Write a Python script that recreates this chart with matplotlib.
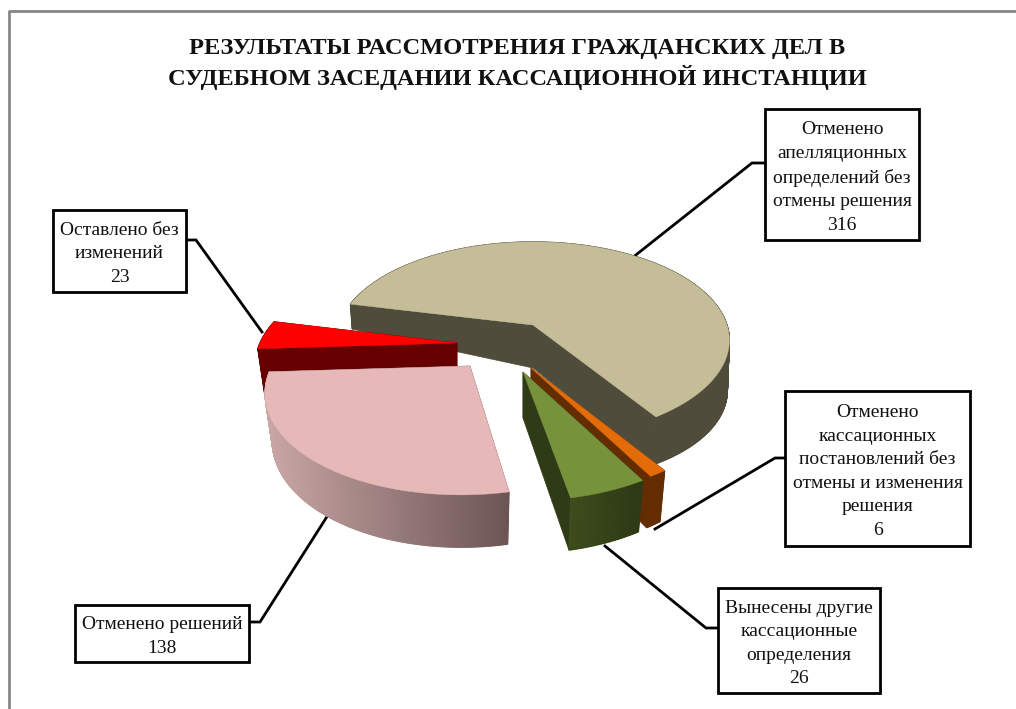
import matplotlib
matplotlib.use("Agg")
import matplotlib.pyplot as plt
from matplotlib.colors import LinearSegmentedColormap
import numpy as np

title = "РЕЗУЛЬТАТЫ РАССМОТРЕНИЯ ГРАЖДАНСКИХ ДЕЛ В\nСУДЕБНОМ ЗАСЕДАНИИ КАССАЦИОННОЙ ИНСТАНЦИИ"

# clockwise from the large slice
names = [
    "Отменено\nапелляционных\nопределений без\nотмены решения",
    "Отменено\nкассационных\nпостановлений без\nотмены и изменения\nрешения",
    "Вынесены другие\nкассационные\nопределения",
    "Отменено решений",
    "Оставлено без\nизменений",
]
values = [316, 6, 26, 138, 23]

top_colors = ["#c4bd97", "#e36c09", "#76933c", "#e6b9b8", "#ff0000"]
side_left = ["#504c3b", "#632d00", "#3d4c1c", "#c9a6a5", "#660000"]
side_right = ["#504c3b", "#632d00", "#2e3915", "#6c5555", "#660000"]
face_colors = ["#504c3b", "#632d00", "#2f3a17", "#7a5c5c", "#660000"]

# exploded slice centres in pixels, perspective settings per slice
cx = [533, 531, 523, 470, 457]
cy = [325, 368, 372, 366, 343]
rx = [194, 197, 197, 198, 197]
ry = [96, 100, 100, 100, 100]
persp = [0.155, 0.224, 0.224, 0.224, 0.224]
skew = [0, 0, 0, -0.07, 0]
shrink = [0.99, 0.965, 0.965, 0.965, 0.965]
y_spread = [0, 0.05, 0.05, 0.05, 0.05]
depth = 46
start_angle = -77.0

# label boxes x0, y0, x1, y1 and leader lines
boxes = [
    (765, 109, 919, 240),
    (785, 391, 970, 546),
    (718, 588, 880, 693),
    (75, 605, 249, 662),
    (53, 210, 186, 292),
]
leaders = [
    ([632, 752, 765], [258, 163, 163]),
    ([655, 775, 785], [529, 458, 458]),
    ([605, 706, 718], [546, 628, 628]),
    ([328, 260, 249], [515, 622, 622]),
    ([262, 196, 186], [332, 240, 240]),
]

fig = plt.figure(figsize=(10.16, 7.09), dpi=100)
ax = fig.add_axes([0, 0, 1, 1])
ax.set_xlim(0, 1016)
ax.set_ylim(709, 0)
ax.axis("off")

ax.plot([9, 9, 1016], [709, 11, 11], color="#868686", lw=2)

ax.text(517, 64, title, ha="center", va="center", fontsize=17.6, fontweight="bold",
        family="Liberation Serif", linespacing=1.33, color="#111111")


def project(i, theta):
    u = np.sin(np.radians(theta))
    v = -np.cos(np.radians(theta))
    s = 1 / (1 - persp[i] * v)
    dy = ry[i] * v * s
    return cx[i] + rx[i] * u * s + skew[i] * dy, cy[i] + dy


def bottom(i, x, y):
    # the big slice gets thinner towards its back left corner
    if i == 0:
        d = np.interp(x, [352, 533, 730], [25, 43, 50])
    else:
        d = np.full_like(x, depth, dtype=float)
    return cx[i] + (x - cx[i]) * shrink[i], y + d + (y - cy[i]) * y_spread[i]


def draw_slice(i, a0, a1, z):
    th = np.linspace(a0, a1, max(int(a1 - a0) * 3, 12))
    x, y = project(i, th)
    bx, by = bottom(i, x, y)
    c0x, c0y = bottom(i, np.array([float(cx[i])]), np.array([float(cy[i])]))

    # radial faces first, the top face hides those turned away
    for k in (0, -1):
        ax.fill([cx[i], x[k], bx[k], c0x[0]], [cy[i], y[k], by[k], c0y[0]],
                color=face_colors[i], lw=0.5, zorder=z)

    # rim shaded along its length
    cmap = LinearSegmentedColormap.from_list("s", [side_left[i], side_right[i]])
    xmin, xmax = x.min(), x.max()
    for k in range(len(th) - 1):
        f = (x[k] - xmin) / max(xmax - xmin, 1)
        ax.fill([x[k], x[k + 1], bx[k + 1], bx[k]], [y[k], y[k + 1], by[k + 1], by[k]],
                color=cmap(f), lw=0.8, zorder=z)

    ax.fill(np.r_[cx[i], x], np.r_[cy[i], y], color=top_colors[i], lw=0.3, zorder=z + 0.5)


angles = np.cumsum([0] + values) / sum(values) * 360 + start_angle
# pink is closest to the viewer, red goes behind it
order = [0, 4, 1, 2, 3]
for n, i in enumerate(order):
    draw_slice(i, angles[i], angles[i + 1], 2 + n)

for (lx, ly) in leaders:
    ax.plot(lx, ly, color="black", lw=2, zorder=1, solid_joinstyle="miter")

for i, b in enumerate(boxes):
    ax.fill([b[0], b[2], b[2], b[0]], [b[1], b[1], b[3], b[3]], facecolor="white",
            edgecolor="black", lw=2, zorder=10)
    ax.text((b[0] + b[2]) / 2, (b[1] + b[3]) / 2 + 3, names[i] + "\n" + str(values[i]),
            ha="center", va="center", fontsize=14, family="Liberation Serif",
            linespacing=1.5, color="#111111", zorder=11)

fig.savefig("out.png", dpi=100)
